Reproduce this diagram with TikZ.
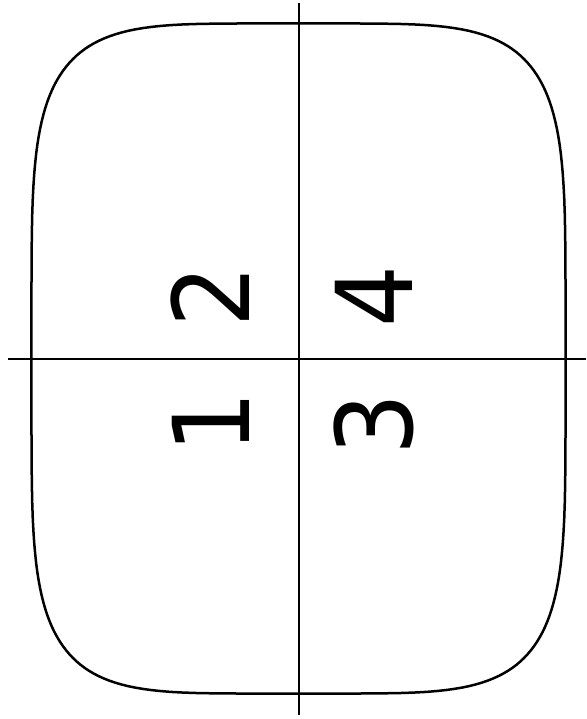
\documentclass[tikz,border=0pt]{standalone}
\usepackage{fontspec}
\setmainfont{DejaVu Sans}
\newcommand{\narrowdigit}[1]{\scalebox{0.92}[1]{#1}}
\begin{document}
\begin{tikzpicture}[x=1pt,y=-1pt,line width=2.5pt,
  num/.style={rotate=90,inner sep=0pt,font=\fontsize{106}{106}\selectfont}]
\useasboundingbox (0,0) rectangle (586,719);
% rounded outline (superellipse)
\draw[line join=round]
  plot[variable=\t,domain=1:359,samples=180]
  ({298.5+267*sign(cos(\t))*pow(abs(cos(\t)),0.4)},
   {358.5+335*sign(sin(\t))*pow(abs(sin(\t)),0.4)}) -- cycle;
% axes
\coordinate (hl) at (8,359);
\coordinate (hr) at (586,359);
\coordinate (vt) at (299,3);
\coordinate (vb) at (299,715);
\draw (hl) -- (hr);
\draw (vt) -- (vb);
% labels
\node[num] (n2) at (210.5,296.5) {\narrowdigit{2}};
\node[num] (n1) at (210.5,422.5) {\narrowdigit{1}};
\node[num] (n4) at (373.5,296.5) {\narrowdigit{4}};
\node[num] (n3) at (374,424.5) {\narrowdigit{3}};
\end{tikzpicture}
\end{document}
